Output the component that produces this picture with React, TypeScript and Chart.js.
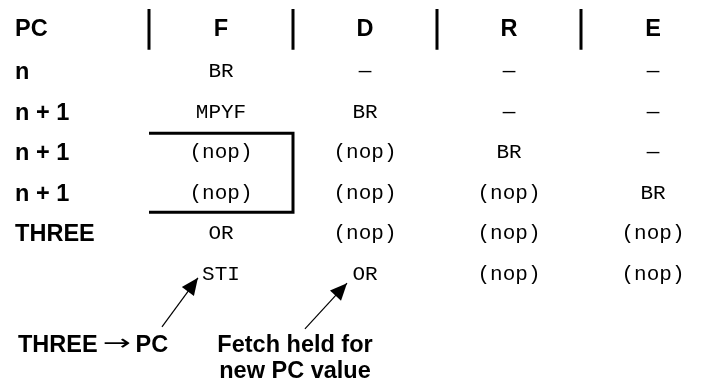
import React, { useEffect, useRef } from "react";
import { Chart, registerables } from "chart.js";
Chart.register(...registerables);

// ---- data ----
const headerLabel = "PC";
const stages = ["F", "D", "R", "E"];
const pcLabels = ["n", "n + 1", "n + 1", "n + 1", "THREE", ""];
const fetchCol = ["BR", "MPYF", "(nop)", "(nop)", "OR", "STI"];
const decodeCol = ["—", "BR", "(nop)", "(nop)", "(nop)", "OR"];
const readCol = ["—", "—", "BR", "(nop)", "(nop)", "(nop)"];
const executeCol = ["—", "—", "—", "BR", "(nop)", "(nop)"];
const stageCols = [fetchCol, decodeCol, readCol, executeCol];
const heldRows = [3, 4]; // rows of the held-fetch box in column F
const noteLeft = ["THREE", "→", "PC"];
const noteRight = ["Fetch held for", "new PC value"];

// layout in grid units (column index / row index)
const LABEL_X = -0.43;
const HEADER_Y = -0.06;
const SEP_TOP = -0.52;
const SEP_BOTTOM = 0.49;
const NOTE_ROW1 = 7.74;
const NOTE_ROW2 = 8.38;
const NOTE_LEFT_X = -0.41;
const NOTE_RIGHT_X = 1.514;
const arrows = [
  { from: { x: 0.59, y: 7.33 }, to: { x: 0.84, y: 6.12 } },
  { from: { x: 1.583, y: 7.38 }, to: { x: 1.875, y: 6.25 } },
];

const BOLD = "bold 23.5px 'Liberation Sans', Arial, sans-serif";
const REG = "22px 'DejaVu Sans', 'Liberation Sans', sans-serif";
const MONO = "21px 'Liberation Mono', 'Courier New', monospace";

const textPlugin = {
  id: "diagramText",
  afterDatasetsDraw(chart: any) {
    const ctx: CanvasRenderingContext2D = chart.ctx;
    const xs = chart.scales.x;
    const ys = chart.scales.y;
    ctx.save();
    ctx.fillStyle = "#000";
    const capOf = (font: string) => {
      ctx.font = font;
      return ctx.measureText("H").actualBoundingBoxAscent;
    };
    const draw = (text: string, px: number, py: number, font: string, align: CanvasTextAlign) => {
      const cap = capOf(font);
      ctx.font = font;
      ctx.textAlign = align;
      ctx.textBaseline = "alphabetic";
      ctx.fillText(text, px, py + cap / 2);
    };
    // header
    draw(headerLabel, xs.getPixelForValue(LABEL_X), ys.getPixelForValue(HEADER_Y), BOLD, "left");
    stages.forEach((s, i) => draw(s, xs.getPixelForValue(i + 1), ys.getPixelForValue(HEADER_Y), BOLD, "center"));
    // row labels
    pcLabels.forEach((l, r) => {
      if (l) draw(l, xs.getPixelForValue(LABEL_X), ys.getPixelForValue(r + 1), BOLD, "left");
    });
    // cells via dataset elements
    chart.data.datasets.forEach((ds: any, di: number) => {
      if (ds.kind !== "cells") return;
      const meta = chart.getDatasetMeta(di);
      meta.data.forEach((el: any, i: number) => {
        draw(ds.texts[i], el.x, el.y, MONO, "center");
      });
    });
    // arrowheads
    chart.data.datasets.forEach((ds: any, di: number) => {
      if (ds.kind !== "arrow") return;
      const meta = chart.getDatasetMeta(di);
      const a = meta.data[0];
      const b = meta.data[1];
      const ang = Math.atan2(b.y - a.y, b.x - a.x);
      const len = 17;
      const half = 7.5;
      const bx = b.x - len * Math.cos(ang);
      const by = b.y - len * Math.sin(ang);
      ctx.beginPath();
      ctx.moveTo(b.x, b.y);
      ctx.lineTo(bx + half * Math.sin(ang), by - half * Math.cos(ang));
      ctx.lineTo(bx - half * Math.sin(ang), by + half * Math.cos(ang));
      ctx.closePath();
      ctx.fill();
    });
    // notes
    const y1 = ys.getPixelForValue(NOTE_ROW1);
    let x = xs.getPixelForValue(NOTE_LEFT_X);
    draw(noteLeft[0], x, y1, BOLD, "left");
    ctx.font = BOLD;
    x += ctx.measureText(noteLeft[0]).width + 7;
    // arrow glyph stretched to the long thin arrow of the original
    ctx.font = REG;
    const m = ctx.measureText(noteLeft[1]);
    const gw = m.actualBoundingBoxRight + m.actualBoundingBoxLeft;
    const target = 26;
    const capB = capOf(BOLD);
    const arrowMid = (m.actualBoundingBoxAscent - m.actualBoundingBoxDescent) / 2;
    ctx.save();
    ctx.translate(x, y1 + arrowMid);
    ctx.scale(target / gw, 1);
    ctx.font = REG;
    ctx.textAlign = "left";
    ctx.textBaseline = "alphabetic";
    ctx.fillText(noteLeft[1], m.actualBoundingBoxLeft, 0);
    ctx.restore();
    x += target + 5;
    draw(noteLeft[2], x, y1, BOLD, "left");
    void capB;
    draw(noteRight[0], xs.getPixelForValue(NOTE_RIGHT_X), y1, BOLD, "center");
    draw(noteRight[1], xs.getPixelForValue(NOTE_RIGHT_X), ys.getPixelForValue(NOTE_ROW2), BOLD, "center");
    ctx.restore();
  },
};

export default function App() {
  const ref = useRef<HTMLCanvasElement>(null);
  useEffect(() => {
    if (!ref.current) return;
    const datasets: any[] = [];
    stageCols.forEach((col, ci) => {
      datasets.push({
        kind: "cells",
        texts: col,
        data: col.map((_, r) => ({ x: ci + 1, y: r + 1 })),
        pointRadius: 0,
        showLine: false,
      });
    });
    // header separators
    stages.forEach((_, i) => {
      datasets.push({
        kind: "line",
        data: [
          { x: i + 0.5, y: SEP_TOP },
          { x: i + 0.5, y: SEP_BOTTOM },
        ],
        showLine: true,
        borderColor: "#000",
        borderWidth: 3,
        pointRadius: 0,
      });
    });
    // held box
    const top = heldRows[0] - 0.45;
    const bottom = heldRows[heldRows.length - 1] + 0.5;
    datasets.push({
      kind: "line",
      data: [
        { x: 0.5, y: top },
        { x: 1.5, y: top },
        { x: 1.5, y: bottom },
        { x: 0.5, y: bottom },
      ],
      showLine: true,
      borderColor: "#000",
      borderWidth: 3,
      borderJoinStyle: "miter",
      pointRadius: 0,
    });
    arrows.forEach((a) => {
      datasets.push({
        kind: "arrow",
        data: [a.from, a.to],
        showLine: true,
        borderColor: "#000",
        borderWidth: 1.2,
        pointRadius: 0,
      });
    });
    const chart = new Chart(ref.current, {
      type: "scatter",
      data: { datasets },
      options: {
        animation: false,
        responsive: false,
        events: [],
        layout: { padding: 0 },
        plugins: { legend: { display: false }, tooltip: { enabled: false } },
        scales: {
          x: { type: "linear", min: 1 - 221 / 144, max: 1 + (716 - 221) / 144, display: false },
          y: { type: "linear", min: -30 / 40.5, max: (383 - 30) / 40.5, reverse: true, display: false },
        },
      },
      plugins: [textPlugin],
    } as any);
    return () => chart.destroy();
  }, []);
  return (
    <div style={{ position: "fixed", left: 0, top: 0, width: 716, height: 383, background: "#fff" }}>
      <canvas ref={ref} width={716} height={383} style={{ display: "block" }} />
    </div>
  );
}
